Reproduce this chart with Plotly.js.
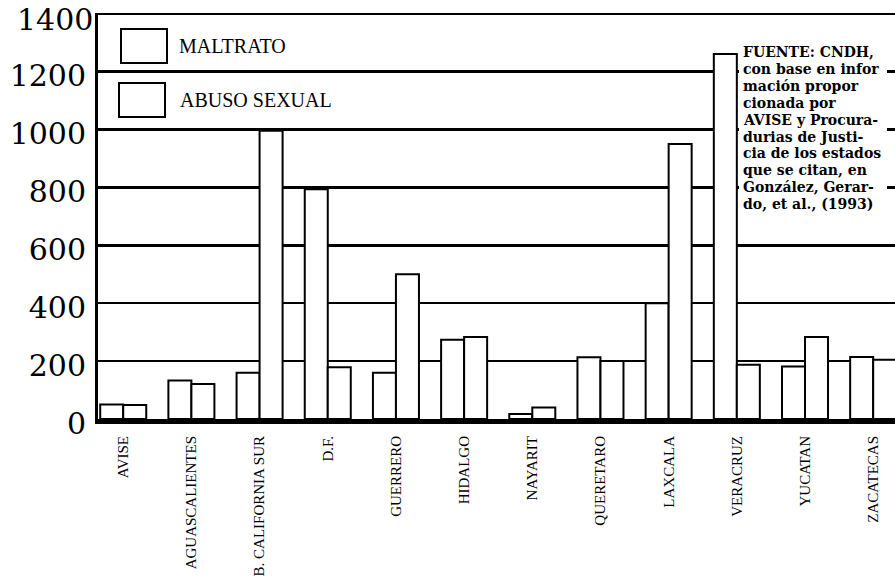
<!DOCTYPE html>
<html>
<head>
<meta charset="utf-8">
<script src="https://cdn.plot.ly/plotly-3.0.1.min.js"></script>
<style>html,body{margin:0;padding:0;background:#fff;}#chart{width:895px;height:584px;}</style>
</head>
<body>
<div id="chart"></div>
<script>
var categories = ["AVISE", "AGUASCALIENTES", "B. CALIFORNIA SUR", "D.F.", "GUERRERO", "HIDALGO", "NAYARIT", "QUERETARO", "LAXCALA", "VERACRUZ", "YUCATAN", "ZACATECAS"];
var maltrato = [50, 133, 160, 793, 160, 274, 17, 213, 400, 1260, 181, 214];
var abusoSexual = [48, 121, 995, 179, 500, 283, 40, 200, 950, 187, 283, 205];
var yTicks = [0, 200, 400, 600, 800, 1000, 1200, 1400];
var seriesNames = ["MALTRATO", "ABUSO SEXUAL"];
var sourceText = ["FUENTE: CNDH,", "con base en infor", "mación propor", "cionada por", "AVISE y Procura-", "durias de Justi-", "cia de los estados", "que se citan, en", "González, Gerar-", "do, et al., (1993)"];

// plot area in pixels (for placing non-data decorations)
var PL = 98, PR = 895, PT = 13, PB = 419;
function px(x) { return (x - PL) / (PR - PL); }
function py(y) { return (PB - y) / (PB - PT); }

var barStyle = {color: "#ffffff", line: {color: "#000000", width: 2}};
var traces = [
  {type: "bar", name: seriesNames[0], x: categories, y: maltrato, marker: barStyle, showlegend: false},
  {type: "bar", name: seriesNames[1], x: categories, y: abusoSexual, marker: barStyle, showlegend: false}
];

var tickFont = {family: "DejaVu Serif", size: 30, color: "#000000"};
var topTick = yTicks[yTicks.length - 1];

var annotations = [
  // top tick label (Plotly drops it at the plot's upper edge), kept fully inside the page
  {xref: "paper", yref: "paper", x: px(PL - 3), y: py(0), xanchor: "right", yanchor: "top", showarrow: false, text: String(topTick), font: tickFont},
  {xref: "paper", yref: "paper", x: px(177), y: py(46), xanchor: "left", yanchor: "middle", showarrow: false, text: seriesNames[0], font: {family: "Liberation Serif", size: 20, color: "#000000"}},
  {xref: "paper", yref: "paper", x: px(178), y: py(100), xanchor: "left", yanchor: "middle", showarrow: false, text: seriesNames[1], font: {family: "Liberation Serif", size: 20, color: "#000000"}}
];
sourceText.forEach(function (line, i) {
  annotations.push({xref: "paper", yref: "paper", x: px(741), y: py(52 + i * 16.9), xanchor: "left", yanchor: "middle", showarrow: false, text: line, font: {family: "DejaVu Serif", size: 14, weight: "bold", color: "#000000"}});
});

var layout = {
  width: 895, height: 584,
  margin: {l: PL, r: 895 - PR, t: PT, b: 584 - PB, pad: 0},
  paper_bgcolor: "#ffffff", plot_bgcolor: "#ffffff",
  barmode: "group", bargap: 0.325, bargroupgap: 0,
  showlegend: false,
  xaxis: {
    type: "category", range: [-0.37, 11.32],
    showgrid: false, zeroline: false,
    showline: true, linecolor: "#000000", linewidth: 5,
    ticks: "", tickangle: -90, ticklabelstandoff: 6,
    tickfont: {family: "Liberation Serif", size: 15, color: "#000000"}
  },
  yaxis: {
    range: [0, 1402], tickvals: yTicks.slice(0, -1), ticktext: yTicks.slice(0, -1).map(String),
    showgrid: true, gridcolor: "#000000", gridwidth: 2.5,
    zeroline: false,
    showline: true, linecolor: "#000000", linewidth: 3,
    ticks: "", ticklabelstandoff: 3, ticklabelshift: 4,
    tickfont: tickFont
  },
  shapes: [
    {type: "line", xref: "paper", yref: "y", x0: 0, x1: 1, y0: topTick, y1: topTick, line: {color: "#000000", width: 3}},
    {type: "rect", xref: "paper", yref: "paper", x0: px(739), x1: px(887), y0: py(212), y1: py(40), fillcolor: "#ffffff", line: {width: 0}},
    {type: "rect", xref: "paper", yref: "paper", x0: px(121), x1: px(167), y0: py(63), y1: py(29), fillcolor: "#ffffff", line: {color: "#000000", width: 2}},
    {type: "rect", xref: "paper", yref: "paper", x0: px(119), x1: px(165), y0: py(117), y1: py(83), fillcolor: "#ffffff", line: {color: "#000000", width: 2}}
  ],
  annotations: annotations
};

Plotly.newPlot("chart", traces, layout, {displayModeBar: false, staticPlot: true});
</script>
</body>
</html>
